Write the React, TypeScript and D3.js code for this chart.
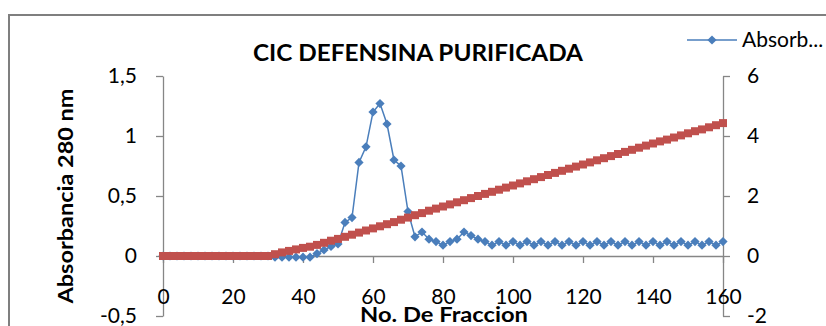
import { useEffect, useRef } from 'react';
import * as d3 from 'd3';

// Fraction numbers (x categories)
const fractions = [
  0, 2, 4, 6, 8, 10, 12, 14, 16, 18, 20, 22, 24, 26, 28, 30,
  32, 34, 36, 38, 40, 42, 44, 46, 48, 50, 52, 54, 56, 58, 60, 62,
  64, 66, 68, 70, 72, 74, 76, 78, 80, 82, 84, 86, 88, 90, 92, 94,
  96, 98, 100, 102, 104, 106, 108, 110, 112, 114, 116, 118, 120, 122, 124, 126,
  128, 130, 132, 134, 136, 138, 140, 142, 144, 146, 148, 150, 152, 154, 156, 158, 160,
];

// Absorbancia 280 nm (left axis)
const absorbance = [
  0, 0, 0, 0, 0, 0, 0, 0, 0, 0, 0, 0, 0, 0, 0, 0,
  -0.01, -0.01, -0.01, -0.01, -0.01, -0.01, 0.02, 0.05, 0.08, 0.1, 0.28, 0.32, 0.78, 0.91, 1.2, 1.27,
  1.1, 0.8, 0.75, 0.37, 0.16, 0.2, 0.14, 0.12, 0.09, 0.12, 0.14, 0.2, 0.17, 0.14, 0.12, 0.09,
  0.12, 0.09, 0.12, 0.09, 0.12, 0.09, 0.12, 0.09, 0.12, 0.09, 0.12, 0.09, 0.12, 0.09, 0.12, 0.09,
  0.12, 0.09, 0.12, 0.09, 0.12, 0.09, 0.12, 0.09, 0.12, 0.09, 0.12, 0.09, 0.12, 0.09, 0.12, 0.09, 0.12,
];

// Gradient (right axis)
const gradient = [
  0, 0, 0, 0, 0, 0, 0, 0, 0, 0, 0, 0, 0, 0, 0, 0,
  0.06, 0.12, 0.17, 0.22, 0.27, 0.31, 0.37, 0.44, 0.51, 0.57, 0.64, 0.71, 0.78, 0.85, 0.92, 0.99,
  1.06, 1.13, 1.21, 1.28, 1.36, 1.43, 1.51, 1.58, 1.65, 1.72, 1.79, 1.86, 1.93, 2.0, 2.07, 2.14,
  2.21, 2.28, 2.35, 2.42, 2.49, 2.56, 2.63, 2.7, 2.77, 2.84, 2.91, 2.98, 3.05, 3.12, 3.19, 3.26,
  3.33, 3.4, 3.47, 3.54, 3.61, 3.68, 3.75, 3.82, 3.88, 3.95, 4.02, 4.09, 4.16, 4.22, 4.29, 4.36, 4.43,
];

const xTicks = [0, 20, 40, 60, 80, 100, 120, 140, 160];
const leftTicks = [-0.5, 0, 0.5, 1, 1.5];
const rightTicks = [-2, 0, 2, 4, 6];

const FONT = 'Lato, "Open Sans", sans-serif';
const BLUE = '#4A7EBB';
const RED = '#C0504D';
const AXIS = '#868686';

const App = () => {
  const svgRef = useRef<SVGSVGElement>(null);

  useEffect(() => {
    if (!svgRef.current) return;
    const svg = d3.select(svgRef.current);
    svg.selectAll('*').remove();

    const x = d3.scaleLinear().domain([0, 160]).range([163, 723]);
    const yL = d3.scaleLinear().domain([-0.5, 1.5]).range([316, 76]);
    const yR = d3.scaleLinear().domain([-2, 6]).range([316, 76]);
    const fmt = (d: number) => String(d).replace('.', ',');

    // chart area border (extends past the window)
    svg.append('rect')
      .attr('x', 9).attr('y', 15)
      .attr('width', 1000).attr('height', 500)
      .attr('fill', 'none')
      .attr('stroke', '#7f7f7f')
      .attr('stroke-width', 2);

    const styleAxis = (g: d3.Selection<SVGGElement, unknown, null, undefined>) => {
      g.selectAll('path, line').attr('stroke', AXIS).attr('stroke-width', 1.3);
      g.selectAll('text')
        .attr('fill', '#000')
        .style('font-family', FONT)
        .style('font-size', '21px');
    };

    // left axis
    svg.append('g')
      .attr('transform', 'translate(163,0)')
      .call(d3.axisLeft(yL).tickValues(leftTicks).tickFormat(d => fmt(d as number)).tickSize(7).tickSizeOuter(0).tickPadding(19))
      .call(styleAxis);

    // right axis
    svg.append('g')
      .attr('transform', 'translate(723,0)')
      .call(d3.axisRight(yR).tickValues(rightTicks).tickFormat(d => String(d)).tickSize(7).tickSizeOuter(0).tickPadding(17))
      .call(styleAxis);

    // x axis at zero line
    svg.append('g')
      .attr('transform', `translate(0,${yL(0)})`)
      .call(d3.axisBottom(x).tickValues(xTicks).tickFormat(d => String(d)).tickSize(7).tickSizeOuter(0).tickPadding(26))
      .call(styleAxis);

    const diamond = 'M0,-4.6L4.6,0L0,4.6L-4.6,0Z';
    const square = 'M-4,-4H4V4H-4Z';

    // Absorbance series
    const blueLine = d3.line<number>()
      .x((_, i) => x(fractions[i]))
      .y(d => yL(d));
    svg.append('path')
      .datum(absorbance)
      .attr('d', blueLine)
      .attr('fill', 'none')
      .attr('stroke', BLUE)
      .attr('stroke-width', 1.5);
    svg.append('g')
      .selectAll('path')
      .data(absorbance)
      .enter()
      .append('path')
      .attr('d', diamond)
      .attr('transform', (d, i) => `translate(${x(fractions[i])},${yL(d)})`)
      .attr('fill', BLUE);

    // Gradient series (secondary axis, drawn on top)
    const redLine = d3.line<number>()
      .x((_, i) => x(fractions[i]))
      .y(d => yR(d));
    svg.append('path')
      .datum(gradient)
      .attr('d', redLine)
      .attr('fill', 'none')
      .attr('stroke', RED)
      .attr('stroke-width', 2);
    svg.append('g')
      .selectAll('path')
      .data(gradient)
      .enter()
      .append('path')
      .attr('d', square)
      .attr('transform', (d, i) => `translate(${x(fractions[i])},${yR(d)})`)
      .attr('fill', RED);

    // title
    svg.append('text')
      .attr('x', 418).attr('y', 61)
      .attr('text-anchor', 'middle')
      .attr('textLength', 330)
      .attr('lengthAdjust', 'spacingAndGlyphs')
      .style('font-family', FONT)
      .style('font-weight', 'bold')
      .style('font-size', '22px')
      .text('CIC DEFENSINA PURIFICADA');

    // y axis title
    svg.append('text')
      .attr('transform', 'translate(73,196) rotate(-90)')
      .attr('text-anchor', 'middle')
      .attr('textLength', 215)
      .attr('lengthAdjust', 'spacingAndGlyphs')
      .style('font-family', FONT)
      .style('font-weight', 'bold')
      .style('font-size', '21px')
      .text('Absorbancia 280 nm');

    // x axis title
    svg.append('text')
      .attr('x', 444).attr('y', 322)
      .attr('text-anchor', 'middle')
      .attr('textLength', 168)
      .attr('lengthAdjust', 'spacingAndGlyphs')
      .style('font-family', FONT)
      .style('font-weight', 'bold')
      .style('font-size', '21px')
      .text('No. De Fraccion');

    // legend
    const legend = svg.append('g').attr('transform', 'translate(687,40)');
    legend.append('line')
      .attr('x1', 0).attr('x2', 50)
      .attr('stroke', BLUE).attr('stroke-width', 1.5);
    legend.append('path')
      .attr('d', diamond)
      .attr('transform', 'translate(25,0)')
      .attr('fill', BLUE);
    legend.append('text')
      .attr('x', 55).attr('y', 7)
      .style('font-family', FONT)
      .style('font-size', '21px')
      .text('Absorb...');
  }, []);

  return (
    <svg
      ref={svgRef}
      width={826}
      height={326}
      style={{ position: 'fixed', left: 0, top: 0, background: '#fff' }}
    />
  );
};

export default App;
